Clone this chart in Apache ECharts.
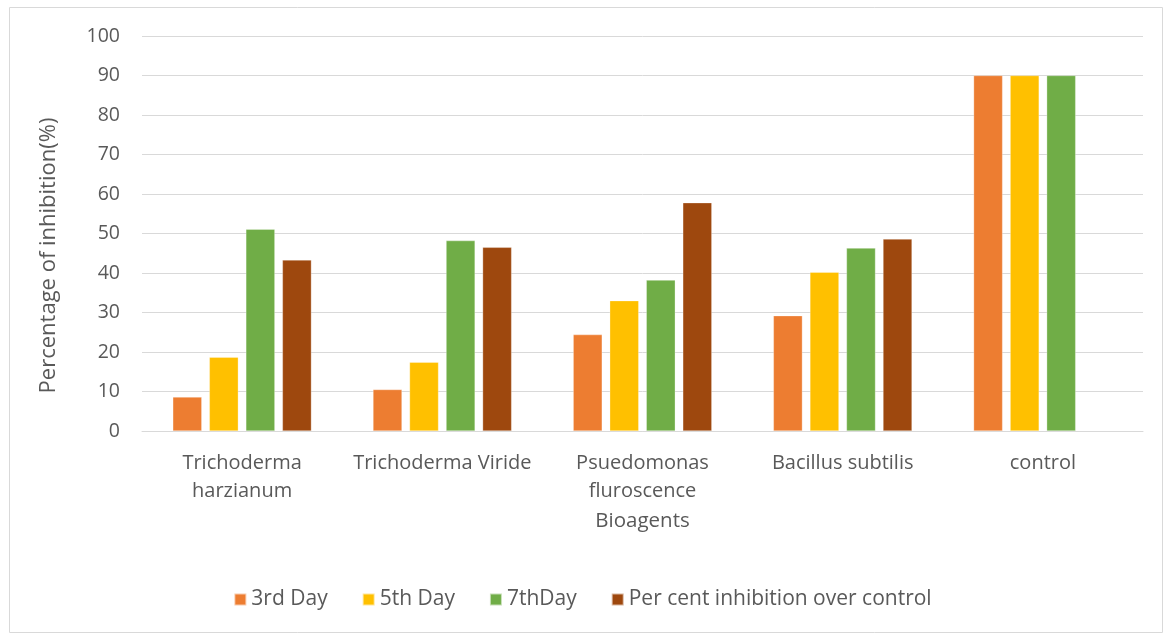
<!DOCTYPE html>
<html>
<head>
<meta charset="utf-8">
<script src="https://cdn.jsdelivr.net/npm/echarts@6/dist/echarts.min.js"></script>
<style>
  html, body { margin: 0; padding: 0; background: #fff; }
  #chart { width: 1165px; height: 636px; }
</style>
</head>
<body>
<div id="chart"></div>
<script>
// categories and values
var categories = ['Trichoderma\nharzianum', 'Trichoderma Viride', 'Psuedomonas\nfluroscence', 'Bacillus subtilis', 'control'];
var day3 = [8.6, 10.5, 24.4, 29.2, 90];
var day5 = [18.7, 17.4, 33.0, 40.2, 90];
var day7 = [51.1, 48.2, 38.2, 46.3, 90];
var inhibition = [43.3, 46.5, 57.8, 48.6, '-'];
var yTicks = { min: 0, max: 100, interval: 10 };

var textColor = '#595959';
var fontName = 'Open Sans';

function barSeries(name, data, color) {
    return {
        name: name,
        type: 'bar',
        data: data,
        barWidth: 29,
        barGap: '26%',
        barCategoryGap: '31%',
        itemStyle: { color: color, borderColor: 'rgba(255,255,255,0.6)', borderWidth: 0.5 }
    };
}

var chart = echarts.init(document.getElementById('chart'));
chart.setOption({
    animation: false,
    textStyle: { fontFamily: fontName, color: textColor },
    graphic: [{
        type: 'rect',
        shape: { x: 9.5, y: 7.5, width: 1153, height: 625 },
        style: { fill: null, stroke: '#d9d9d9', lineWidth: 1 },
        silent: true
    }],
    grid: { left: 142, right: 22, top: 36, bottom: 205 },
    legend: {
        bottom: 21,
        left: 'center',
        itemWidth: 12,
        itemHeight: 12,
        itemGap: 34,
        icon: 'rect',
        textStyle: { fontSize: 21, color: textColor, fontFamily: fontName },
        data: ['3rd Day', '5th Day', '7thDay', 'Per cent inhibition over control']
    },
    xAxis: {
        type: 'category',
        data: categories,
        name: 'Bioagents',
        nameLocation: 'middle',
        nameGap: 80,
        nameTextStyle: { fontSize: 20.5, color: textColor },
        axisLine: { lineStyle: { color: '#d9d9d9', width: 1 } },
        axisTick: { show: false },
        axisLabel: { interval: 0, hideOverlap: false, fontSize: 20, color: textColor, margin: 18, lineHeight: 28 }
    },
    yAxis: {
        type: 'value',
        min: yTicks.min,
        max: yTicks.max,
        interval: yTicks.interval,
        name: 'Percentage of inhibition(%)',
        nameLocation: 'middle',
        nameGap: 82,
        nameTextStyle: { fontSize: 22, color: textColor, padding: [0, 44, 0, 0] },
        axisLine: { show: false },
        axisTick: { show: false },
        axisLabel: { fontSize: 19.5, color: textColor, margin: 22 },
        splitLine: { lineStyle: { color: '#d9d9d9', width: 1 } }
    },
    series: [
        barSeries('3rd Day', day3, '#ed7d31'),
        barSeries('5th Day', day5, '#ffc000'),
        barSeries('7thDay', day7, '#70ad47'),
        barSeries('Per cent inhibition over control', inhibition, '#9e480e')
    ]
});
</script>
</body>
</html>
